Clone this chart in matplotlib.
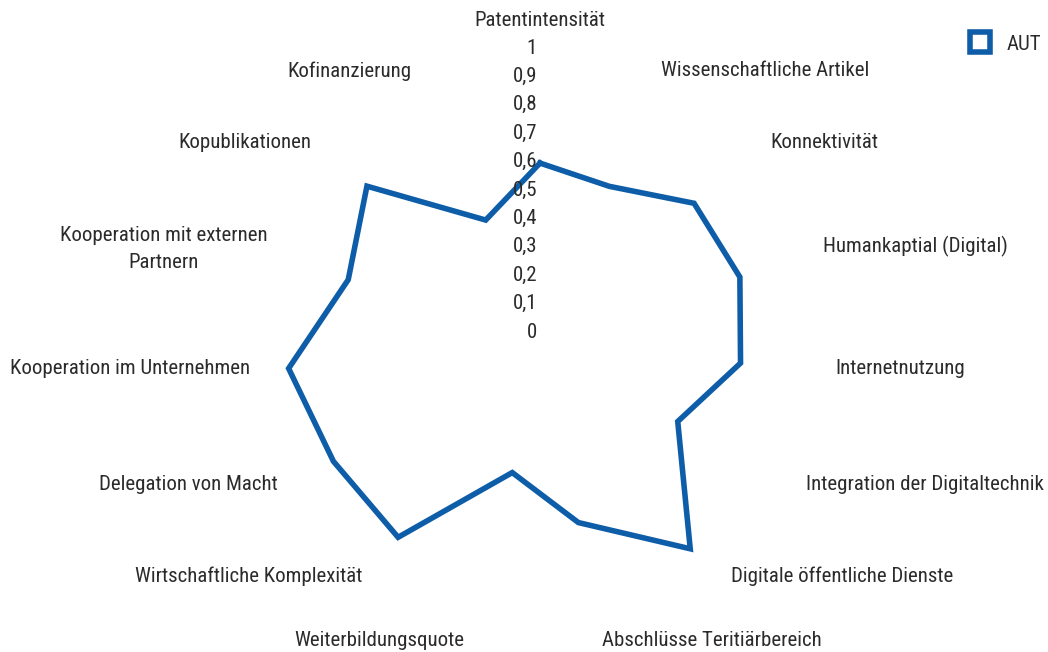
import numpy as np
import matplotlib.pyplot as plt
import matplotlib.transforms as mtransforms
from matplotlib.lines import Line2D

plt.rcParams['font.family'] = ['Roboto Condensed', 'DejaVu Sans']

kategorien = ['Patentintensität', 'Wissenschaftliche Artikel', 'Konnektivität',
              'Humankaptial (Digital)', 'Internetnutzung', 'Integration der Digitaltechnik',
              'Digitale öffentliche Dienste', 'Abschlüsse Teritiärbereich', 'Weiterbildungsquote',
              'Wirtschaftliche Komplexität', 'Delegation von Macht', 'Kooperation im Unternehmen',
              'Kooperation mit externen\nPartnern', 'Kopublikationen', 'Kofinanzierung']
aut = [0.63, 0.60, 0.73, 0.74, 0.71, 0.56, 0.90, 0.65, 0.47, 0.85, 0.84, 0.89, 0.71, 0.82, 0.47]
r_ticks = [0, 0.1, 0.2, 0.3, 0.4, 0.5, 0.6, 0.7, 0.8, 0.9, 1.0]

# Label-Positionen in Pixeln (x, y von oben)
label_pos = [(540, 20), (765, 71), (824, 142), (915, 246), (900, 368), (925, 484),
             (842, 576), (712, 640), (379, 640), (249, 576), (188, 484), (130, 368),
             (164, 249), (245, 142), (349, 71)]

W, H = 1048, 652
blau = '#0E5DA8'
grau = '#2b2b2b'
fs = 15

fig = plt.figure(figsize=(W / 100, H / 100), dpi=100)
cx, cy, R = 540, 342, 284
ax = fig.add_axes([(cx - R) / W, (H - cy - R) / H, 2 * R / W, 2 * R / H], projection='polar')
ax.set_theta_zero_location('N')
ax.set_theta_direction(-1)

n = len(kategorien)
winkel = np.arange(n) * 2 * np.pi / n
ax.plot(np.append(winkel, winkel[0]), aut + [aut[0]], color=blau, lw=4, solid_joinstyle='miter')

ax.set_ylim(0, 1)
ax.grid(False)
ax.spines['polar'].set_visible(False)
ax.set_xticks([])
ax.set_yticks([])

trans = mtransforms.offset_copy(ax.transData, fig=fig, x=-3, y=10, units='dots')
for r in r_ticks:
    txt = f'{r:g}'.replace('.', ',')
    ax.text(0, r, txt, transform=trans, ha='right', va='center', fontsize=fs, color=grau)

for name, (x, y) in zip(kategorien, label_pos):
    fig.text(x / W, 1 - y / H, name, ha='center', va='center', fontsize=fs,
             color=grau, linespacing=1.5)

handle = Line2D([], [], marker='s', ls='none', markersize=14, markerfacecolor='white',
                markeredgecolor=blau, markeredgewidth=4)
fig.legend([handle], ['AUT'], loc='center', bbox_to_anchor=(1000 / W, 1 - 44 / H),
           frameon=False, fontsize=fs, handletextpad=0.3, labelcolor=grau)

fig.savefig('out.png', dpi=100, facecolor='white')
